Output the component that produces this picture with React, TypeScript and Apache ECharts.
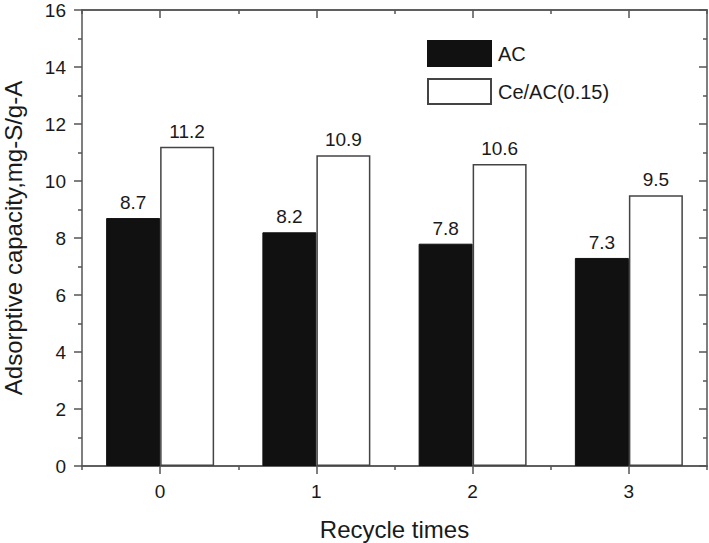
import React, { useEffect, useRef } from "react";
import * as echarts from "echarts";

const categories = ["0", "1", "2", "3"];
const acValues = [8.7, 8.2, 7.8, 7.3];
const ceValues = [11.2, 10.9, 10.6, 9.5];
const seriesNames = ["AC", "Ce/AC(0.15)"];

const FONT = "Liberation Sans, Arial, Helvetica, sans-serif";
const AXIS_COLOR = "#555";
const TEXT = "#1a1a1a";

export default function App() {
  const ref = useRef<HTMLDivElement>(null);
  useEffect(() => {
    if (!ref.current) return;
    const chart = echarts.init(ref.current, null, { renderer: "svg" });
    const axisLine = { show: true, lineStyle: { color: AXIS_COLOR, width: 1.5 } };
    const baseX = {
      type: "category" as const,
      data: categories,
      boundaryGap: true,
      axisLine,
      splitLine: { show: false },
    };
    chart.setOption({
      animation: false,
      textStyle: { fontFamily: FONT },
      grid: { left: 82, top: 10, right: 2, bottom: 77, containLabel: false, outerBoundsMode: "none" },
      legend: {
        orient: "vertical",
        left: 422,
        top: 35,
        itemWidth: 63,
        itemHeight: 25,
        itemGap: 11,
        icon: "rect",
        textStyle: { fontSize: 20, color: TEXT, fontFamily: FONT, padding: [0, 0, 0, 2] },
        data: seriesNames,
      },
      xAxis: [
        {
          ...baseX,
          position: "bottom",
          name: "Recycle times",
          nameLocation: "middle",
          nameGap: 51,
          nameTextStyle: { fontSize: 24, color: TEXT, fontFamily: FONT },
          axisTick: { show: true, alignWithLabel: true, length: 8, lineStyle: { color: AXIS_COLOR, width: 1.5 } },
          axisLabel: { fontSize: 19, color: TEXT, margin: 16, fontFamily: FONT },
        },
        {
          ...baseX,
          position: "bottom",
          axisTick: { show: true, alignWithLabel: false, length: 4, lineStyle: { color: AXIS_COLOR, width: 1.5 } },
          axisLabel: { show: false },
        },
        {
          ...baseX,
          position: "top",
          axisTick: { show: true, inside: true, alignWithLabel: true, length: 8, lineStyle: { color: AXIS_COLOR, width: 1.5 } },
          axisLabel: { show: false },
        },
        {
          ...baseX,
          position: "top",
          axisTick: { show: true, inside: true, alignWithLabel: false, length: 4, lineStyle: { color: AXIS_COLOR, width: 1.5 } },
          axisLabel: { show: false },
        },
      ],
      yAxis: [
        {
          type: "value",
          position: "left",
          min: 0,
          max: 16,
          interval: 2,
          name: "Adsorptive capacity,mg-S/g-A",
          nameLocation: "middle",
          nameGap: 57,
          nameTextStyle: { fontSize: 24, color: TEXT, fontFamily: FONT },
          axisLine,
          axisTick: { show: true, length: 8, lineStyle: { color: AXIS_COLOR, width: 1.5 } },
          minorTick: { show: true, splitNumber: 2, length: 4, lineStyle: { color: AXIS_COLOR, width: 1.5 } },
          axisLabel: { fontSize: 19, color: TEXT, margin: 16, fontFamily: FONT },
          splitLine: { show: false },
        },
        {
          type: "value",
          position: "right",
          min: 0,
          max: 16,
          interval: 2,
          axisLine,
          axisTick: { show: true, inside: true, length: 8, lineStyle: { color: AXIS_COLOR, width: 1.5 } },
          minorTick: { show: true, splitNumber: 2, length: 4, lineStyle: { color: AXIS_COLOR, width: 1.5 } },
          axisLabel: { show: false },
          splitLine: { show: false },
        },
      ],
      series: [
        {
          name: seriesNames[0],
          type: "bar",
          data: acValues,
          xAxisIndex: 0,
          yAxisIndex: 0,
          barWidth: 54,
          barGap: "0%",
          itemStyle: { color: "#111", borderColor: "#111", borderWidth: 1 },
          label: { show: true, position: "top", distance: 6, fontSize: 19, color: TEXT, fontFamily: FONT },
        },
        {
          name: seriesNames[1],
          type: "bar",
          data: ceValues,
          xAxisIndex: 0,
          yAxisIndex: 0,
          barWidth: 54,
          barGap: "0%",
          itemStyle: { color: "#fff", borderColor: "#444", borderWidth: 1.5 },
          label: { show: true, position: "top", distance: 6, fontSize: 19, color: TEXT, fontFamily: FONT },
        },
      ],
    });
    return () => chart.dispose();
  }, []);
  return <div ref={ref} style={{ width: 709, height: 543, position: "absolute", left: 0, top: 0, background: "#fff" }} />;
}
